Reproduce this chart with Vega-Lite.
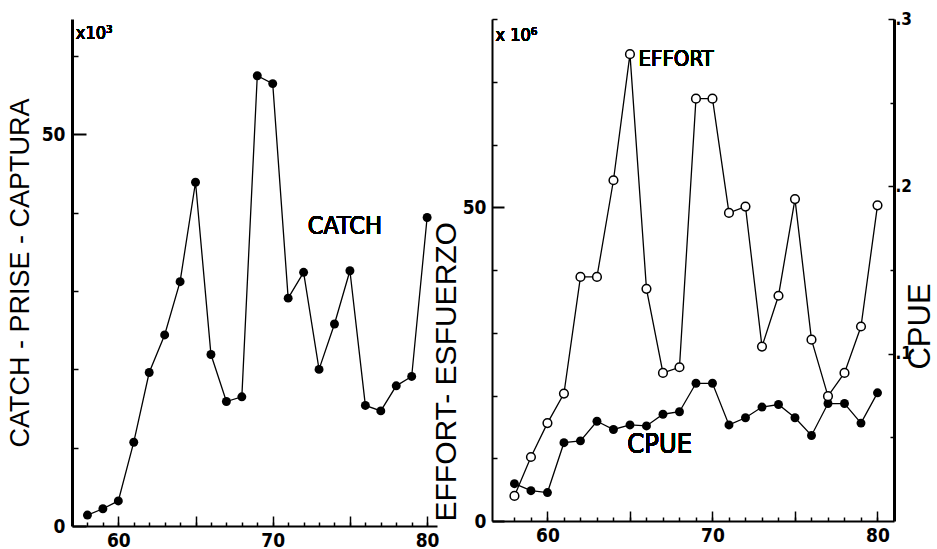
{
  "$schema": "https://vega.github.io/schema/vega-lite/v6.json",
  "background": "white",
  "padding": {"left": 6, "top": 10, "right": 5, "bottom": 0},
  "bounds": "flush",
  "spacing": 55,
  "config": {
    "view": {"stroke": null},
    "axis": {"grid": false, "domainColor": "black", "tickColor": "black", "labelColor": "black", "titleColor": "black",
             "labelFont": "DejaVu Sans Condensed, Liberation Sans, sans-serif", "labelFontWeight": "bold", "labelFontSize": 19,
             "titleFont": "Liberation Sans, sans-serif", "titleFontWeight": "normal"},
    "text": {"font": "DejaVu Sans Condensed, Liberation Sans, sans-serif", "color": "black"}
  },
  "datasets": {
    "catch": [
      {"year": 58, "catch": 1.4}, {"year": 59, "catch": 2.2}, {"year": 60, "catch": 3.2},
      {"year": 61, "catch": 10.7}, {"year": 62, "catch": 19.6}, {"year": 63, "catch": 24.4},
      {"year": 64, "catch": 31.2}, {"year": 65, "catch": 43.9}, {"year": 66, "catch": 21.9},
      {"year": 67, "catch": 15.9}, {"year": 68, "catch": 16.5}, {"year": 69, "catch": 57.5},
      {"year": 70, "catch": 56.5}, {"year": 71, "catch": 29.1}, {"year": 72, "catch": 32.4},
      {"year": 73, "catch": 20.0}, {"year": 74, "catch": 25.8}, {"year": 75, "catch": 32.6},
      {"year": 76, "catch": 15.4}, {"year": 77, "catch": 14.7}, {"year": 78, "catch": 17.9},
      {"year": 79, "catch": 19.1}, {"year": 80, "catch": 39.4}
    ],
    "effort": [
      {"year": 58, "effort": 4.0, "cpue": 0.0223}, {"year": 59, "effort": 10.2, "cpue": 0.0181},
      {"year": 60, "effort": 15.6, "cpue": 0.0170}, {"year": 61, "effort": 20.3, "cpue": 0.0468},
      {"year": 62, "effort": 38.9, "cpue": 0.0479}, {"year": 63, "effort": 38.9, "cpue": 0.0596},
      {"year": 64, "effort": 54.3, "cpue": 0.0547}, {"year": 65, "effort": 74.4, "cpue": 0.0574},
      {"year": 66, "effort": 37.0, "cpue": 0.0568}, {"year": 67, "effort": 23.6, "cpue": 0.0638},
      {"year": 68, "effort": 24.5, "cpue": 0.0653}, {"year": 69, "effort": 67.3, "cpue": 0.0823},
      {"year": 70, "effort": 67.3, "cpue": 0.0823}, {"year": 71, "effort": 49.1, "cpue": 0.0574},
      {"year": 72, "effort": 50.1, "cpue": 0.0617}, {"year": 73, "effort": 27.8, "cpue": 0.0681},
      {"year": 74, "effort": 35.9, "cpue": 0.0696}, {"year": 75, "effort": 51.3, "cpue": 0.0617},
      {"year": 76, "effort": 28.9, "cpue": 0.0511}, {"year": 77, "effort": 19.9, "cpue": 0.0702},
      {"year": 78, "effort": 23.6, "cpue": 0.0702}, {"year": 79, "effort": 31.0, "cpue": 0.0585},
      {"year": 80, "effort": 50.3, "cpue": 0.0766}
    ]
  },
  "hconcat": [
    {
      "width": 365,
      "height": 507,
      "data": {"name": "catch"},
      "resolve": {"axis": {"x": "independent", "y": "independent"}},
      "layer": [
        {
          "mark": {"type": "line", "color": "black", "strokeWidth": 1.3},
          "encoding": {
            "x": {"field": "year", "type": "quantitative", "scale": {"domain": [57.0, 80.64], "nice": false, "zero": false},
                  "axis": {"orient": "bottom", "values": [60, 65, 70, 75, 80], "labelExpr": "datum.value % 10 == 0 ? datum.label : ''",
                           "tickSize": -10, "tickWidth": 1.5, "domainWidth": 2, "labelPadding": 15, "title": null}},
            "y": {"field": "catch", "type": "quantitative", "scale": {"domain": [0, 64.75], "nice": false},
                  "axis": {"orient": "left", "values": [0, 50], "tickSize": -14, "tickWidth": 2, "domainWidth": 3, "labelPadding": 21,
                           "title": "CATCH - PRISE - CAPTURA", "titleFontSize": 27, "titlePadding": 7}}
          }
        },
        {
          "mark": {"type": "point", "shape": "circle", "filled": true, "color": "black", "size": 80, "opacity": 1},
          "encoding": {
            "x": {"field": "year", "type": "quantitative",
                  "axis": {"orient": "bottom", "values": [58, 59, 60, 61, 62, 63, 64, 65, 66, 67, 68, 69, 70, 71, 72, 73, 74, 75, 76, 77, 78, 79, 80],
                           "tickSize": -4, "tickWidth": 1.5, "labels": false, "domain": false, "title": null}},
            "y": {"field": "catch", "type": "quantitative",
                  "axis": {"orient": "left", "values": [10, 20, 30, 40, 60], "tickSize": -6, "tickWidth": 1.5, "labels": false, "domain": false, "title": null}}
          }
        },
        {
          "mark": {"type": "text", "text": "CATCH", "fontSize": 25, "align": "center", "baseline": "middle"},
          "encoding": {
            "x": {"datum": 74.67, "type": "quantitative", "axis": null},
            "y": {"datum": 38.3, "type": "quantitative", "axis": null}
          }
        },
        {
          "mark": {"type": "text", "text": "x10³", "fontSize": 18, "align": "left", "baseline": "alphabetic"},
          "encoding": {
            "x": {"datum": 57.25, "type": "quantitative", "axis": null},
            "y": {"datum": 62.2, "type": "quantitative", "axis": null}
          }
        }
      ]
    },
    {
      "width": 402,
      "height": 502,
      "data": {"name": "effort"},
      "resolve": {"scale": {"y": "independent"}, "axis": {"x": "independent", "y": "independent"}},
      "layer": [
        {
          "mark": {"type": "line", "color": "black", "strokeWidth": 1.3},
          "encoding": {
            "x": {"field": "year", "type": "quantitative", "scale": {"domain": [56.64, 81.0], "nice": false, "zero": false},
                  "axis": {"orient": "bottom", "values": [60, 65, 70, 75, 80], "labelExpr": "datum.value % 10 == 0 ? datum.label : ''",
                           "tickSize": -10, "tickWidth": 1.5, "domainWidth": 2, "labelPadding": 15, "title": null}},
            "y": {"field": "cpue", "type": "quantitative", "scale": {"domain": [0, 0.3], "nice": false},
                  "axis": {"orient": "right", "values": [0.1, 0.2, 0.3], "labelExpr": "'.' + round(datum.value * 10)",
                           "tickSize": -6, "tickWidth": 1.5, "domainWidth": 3, "labelPadding": 7, "labelFontSize": 17,
                           "title": "CPUE", "titleFontSize": 31, "titleAngle": -90, "titleBaseline": "alphabetic",
                           "titlePadding": 18, "titleY": 307, "titleAlign": "center"}}
          }
        },
        {
          "mark": {"type": "line", "color": "black", "strokeWidth": 1.3},
          "encoding": {
            "x": {"field": "year", "type": "quantitative",
                  "axis": {"orient": "bottom", "values": [58, 59, 60, 61, 62, 63, 64, 65, 66, 67, 68, 69, 70, 71, 72, 73, 74, 75, 76, 77, 78, 79, 80],
                           "tickSize": -4, "tickWidth": 1.5, "labels": false, "domain": false, "title": null}},
            "y": {"field": "effort", "type": "quantitative", "scale": {"domain": [0, 80], "nice": false},
                  "axis": {"orient": "left", "values": [0, 50], "tickSize": -12, "tickWidth": 2, "domainWidth": 2, "labelPadding": 18,
                           "title": "EFFORT- ESFUERZO", "titleFontSize": 30, "titleAnchor": "start", "titlePadding": 1}}
          }
        },
        {
          "mark": {"type": "point", "shape": "circle", "filled": true, "color": "black", "size": 80, "opacity": 1},
          "encoding": {
            "x": {"field": "year", "type": "quantitative", "axis": null},
            "y": {"field": "cpue", "type": "quantitative", "scale": {"domain": [0, 0.3], "nice": false},
                  "axis": {"orient": "right", "values": [0.05, 0.15, 0.25], "tickSize": -4, "tickWidth": 1.5, "labels": false, "domain": false, "title": null}}
          }
        },
        {
          "mark": {"type": "point", "shape": "circle", "filled": false, "fill": "white", "stroke": "black", "strokeWidth": 1.5, "size": 75, "opacity": 1, "fillOpacity": 1},
          "encoding": {
            "x": {"field": "year", "type": "quantitative", "axis": null},
            "y": {"field": "effort", "type": "quantitative", "scale": {"domain": [0, 80], "nice": false},
                  "axis": {"orient": "left", "values": [10, 20, 30, 40, 60, 70, 80], "tickSize": -5, "tickWidth": 1.5, "labels": false, "domain": false, "title": null}}
          }
        },
        {
          "mark": {"type": "text", "text": "EFFORT", "fontSize": 22, "align": "left", "baseline": "middle"},
          "encoding": {
            "x": {"datum": 65.52, "type": "quantitative", "axis": null},
            "y": {"datum": 73.6, "type": "quantitative", "scale": {"domain": [0, 80], "nice": false}, "axis": null}
          }
        },
        {
          "mark": {"type": "text", "text": "CPUE", "fontSize": 27, "align": "center", "baseline": "middle"},
          "encoding": {
            "x": {"datum": 66.8, "type": "quantitative", "axis": null},
            "y": {"datum": 12.14, "type": "quantitative", "scale": {"domain": [0, 80], "nice": false}, "axis": null}
          }
        },
        {
          "mark": {"type": "text", "text": "x 10⁶", "fontSize": 18, "align": "left", "baseline": "alphabetic"},
          "encoding": {
            "x": {"datum": 56.85, "type": "quantitative", "axis": null},
            "y": {"datum": 76.5, "type": "quantitative", "scale": {"domain": [0, 80], "nice": false}, "axis": null}
          }
        }
      ]
    }
  ]
}
